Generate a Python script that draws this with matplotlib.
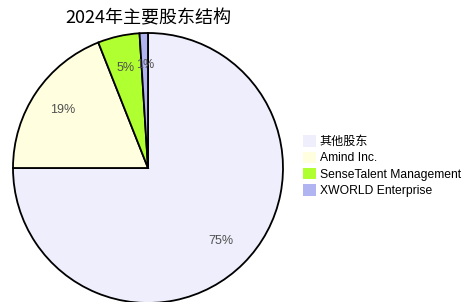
import matplotlib
matplotlib.use("Agg")
import matplotlib.pyplot as plt
from matplotlib.patches import Patch

plt.rcParams['font.family'] = ['Liberation Sans', 'Noto Sans CJK SC', 'DejaVu Sans']

labels = ['其他股东', 'Amind Inc.', 'SenseTalent Management', 'XWORLD Enterprise']
values = [75, 19, 5, 1]
colors = ['#eeeefc', '#ffffe0', '#b0ff30', '#b0b4f0']
title = '2024年主要股东结构'

fig = plt.figure(figsize=(4.65, 3.02), dpi=100)
ax = fig.add_axes([13/465, (302-303)/302, 270/465, 270/302])
wedges, texts, autotexts = ax.pie(values, colors=colors, startangle=90, counterclock=False,
                                  autopct='%.0f%%', pctdistance=0.76,
                                  wedgeprops=dict(edgecolor='black', linewidth=1.3),
                                  textprops=dict(color='#505050', fontsize=9))
for w in wedges:
    w.set_clip_on(False)
ax.set_xlim(-1, 1)
ax.set_ylim(-1, 1)
ax.set_aspect('auto')
ax.axis('off')

fig.text(148/465, 1 - 18/302, title, ha='center', va='center', fontsize=13,
         family=['Noto Sans CJK SC', 'DejaVu Sans'])

handles = [Patch(facecolor=c, edgecolor='none') for c in colors]
fig.legend(handles, labels, loc='upper left', bbox_to_anchor=(301/465, 1 - 133/302),
           frameon=False, fontsize=8.7, handlelength=1.05, handleheight=1.05,
           handletextpad=0.3, labelspacing=0.3, borderaxespad=0, borderpad=0.2)

fig.savefig('out.png', dpi=100)
